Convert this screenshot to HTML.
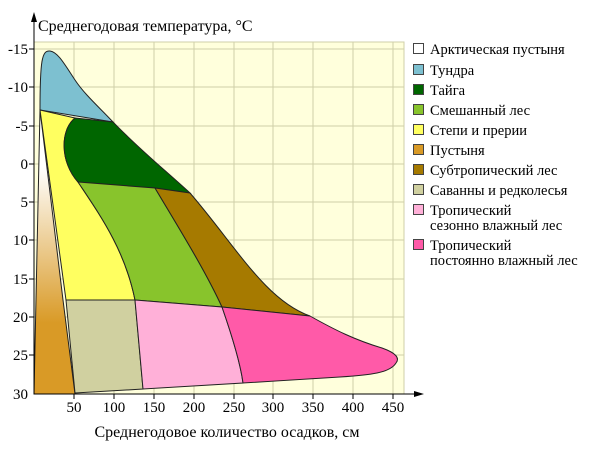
<!DOCTYPE html>
<html><head><meta charset="utf-8"><style>
body{margin:0;background:#fff}
svg{display:block;font-family:"Liberation Serif",serif;font-size:14px}
</style></head><body>
<svg width="600" height="450" viewBox="0 0 600 450">
<defs><linearGradient id="g" x1="0" y1="0" x2="0" y2="1">
<stop offset="0" stop-color="#fff"/><stop offset="0.2" stop-color="#fff"/><stop offset="0.75" stop-color="#d99a26"/><stop offset="1" stop-color="#d99a26"/></linearGradient></defs>
<rect x="34" y="42" width="370" height="352" fill="#ffffdc" stroke="#cfcfa8"/>
<g stroke="#cfcfa8" stroke-width="1">
<path d="M74 42V394M114 42V394M154 42V394M194 42V394M234 42V394M273 42V394M313 42V394M353 42V394M393 42V394"/>
<path d="M34 49H404M34 87H404M34 126H404M34 164H404M34 202H404M34 240H404M34 279H404M34 317H404M34 355H404"/>
</g>
<g stroke="#222" stroke-width="1">
<path d="M40 110 C40 60 42 50 50 51 C58 52 65 65 75 80 C85 95 100 108 113 122 Z" fill="#7dc0d0"/>
<path d="M40 110 L34 394 L75 394 L63 300 Z" fill="url(#g)"/>
<path d="M40 110 L75 118 C60 130 60 162 78 182 C100 215 125 250 135 300 L66 300 Z" fill="#ffff60"/>
<path d="M75 118 L113 122 C140 150 165 170 190 193 L155 188 L78 182 C60 162 60 130 75 118 Z" fill="#006600"/>
<path d="M78 182 L155 188 C180 230 205 270 222 307 L135 300 C125 250 100 215 78 182 Z" fill="#88c42c"/>
<path d="M155 188 L190 193 C235 245 265 300 310 316 L222 307 C205 270 180 230 155 188 Z" fill="#a67a00"/>
<path d="M66 300 L135 300 L143 389 L75 393 Z" fill="#d0d0a0"/>
<path d="M135 300 L222 307 C230 330 240 360 243 383 L143 389 Z" fill="#ffb0d8"/>
<path d="M222 307 L310 316 C335 330 355 340 382 348 C396 353 400 358 396 363 C390 373 370 375 340 377 L243 383 C240 360 230 330 222 307 Z" fill="#ff5aa8"/>
</g>
<g stroke="#000" fill="none"><path d="M34 18V394H418"/></g>
<path d="M34 12 L31 22 L37 22 Z M424 394 L414 391 L414 397 Z" fill="#000"/>
<g stroke="#000"><path d="M29 49H34M29 87H34M29 126H34M29 164H34M29 202H34M29 240H34M29 279H34M29 317H34M29 355H34M74 394V399M114 394V399M154 394V399M194 394V399M234 394V399M273 394V399M313 394V399M353 394V399M393 394V399"/></g>
<g text-anchor="end" font-size="15">
<text x="28" y="54">-15</text><text x="28" y="92">-10</text><text x="28" y="131">-5</text><text x="28" y="169">0</text><text x="28" y="207">5</text><text x="28" y="245">10</text><text x="28" y="284">15</text><text x="28" y="322">20</text><text x="28" y="360">25</text><text x="28" y="399">30</text>
</g>
<g text-anchor="middle" font-size="15">
<text x="74" y="412">50</text><text x="114" y="412">100</text><text x="154" y="412">150</text><text x="194" y="412">200</text><text x="234" y="412">250</text><text x="273" y="412">300</text><text x="313" y="412">350</text><text x="353" y="412">400</text><text x="393" y="412">450</text>
</g>
<text x="38" y="31" font-size="16">Среднегодовая температура, °C</text>
<text x="227" y="437" font-size="16" text-anchor="middle">Среднегодовое количество осадков, см</text>
<g stroke="#444" stroke-width="1">
<rect x="413.5" y="43.5" width="10" height="10" fill="#fff"/>
<rect x="413.5" y="64.5" width="10" height="10" fill="#7dc0d0"/>
<rect x="413.5" y="84.5" width="10" height="10" fill="#006600"/>
<rect x="413.5" y="104.5" width="10" height="10" fill="#88c42c"/>
<rect x="413.5" y="124.5" width="10" height="10" fill="#ffff60"/>
<rect x="413.5" y="144.5" width="10" height="10" fill="#d99a26"/>
<rect x="413.5" y="164.5" width="10" height="10" fill="#a67a00"/>
<rect x="413.5" y="184.5" width="10" height="10" fill="#d0d0a0"/>
<rect x="413.5" y="204.5" width="10" height="10" fill="#ffb0d8"/>
<rect x="413.5" y="239.5" width="10" height="10" fill="#ff5aa8"/>
</g>
<g font-size="14.5">
<text x="430" y="54">Арктическая пустыня</text>
<text x="430" y="75">Тундра</text>
<text x="430" y="95">Тайга</text>
<text x="430" y="115">Смешанный лес</text>
<text x="430" y="135">Степи и прерии</text>
<text x="430" y="155">Пустыня</text>
<text x="430" y="175">Субтропический лес</text>
<text x="430" y="195">Саванны и редколесья</text>
<text x="430" y="215">Тропический</text>
<text x="430" y="230">сезонно влажный лес</text>
<text x="430" y="250">Тропический</text>
<text x="430" y="265">постоянно влажный лес</text>
</g>
</svg>
</body></html>
